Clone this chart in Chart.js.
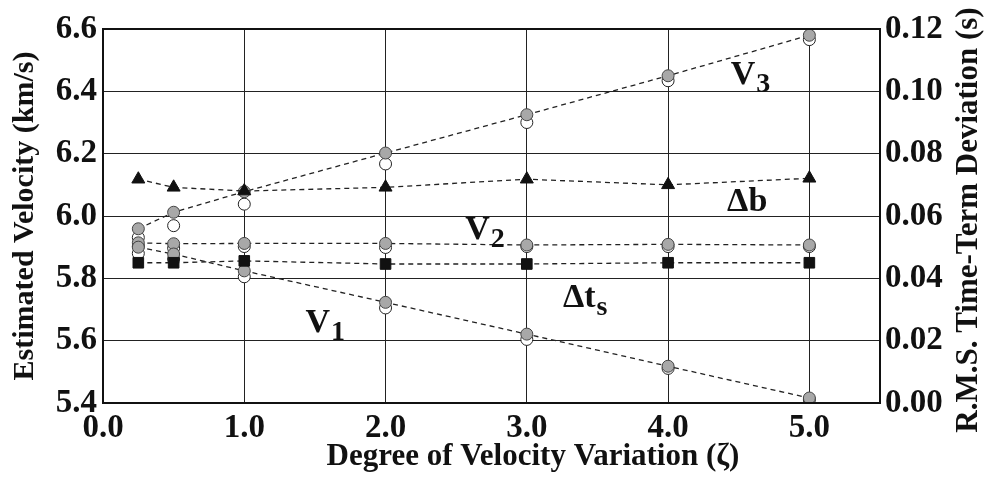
<!DOCTYPE html>
<html>
<head>
<meta charset="utf-8">
<title>Estimated velocity and time-term deviation</title>
<script src="https://cdn.jsdelivr.net/npm/chart.js@4/dist/chart.umd.min.js"></script>
<style>
  html, body { margin: 0; padding: 0; background: #ffffff; }
  #wrap { width: 990px; height: 488px; }
</style>
</head>
<body>
<div id="wrap"><canvas id="chart" width="990" height="488"></canvas></div>
<script>
// Degree of velocity variation (zeta)
const zeta = [0.25, 0.5, 1, 2, 3, 4, 5];

// Estimated layer velocities (km/s): filled = one estimate, open = the other
const v1Filled = [5.900, 5.878, 5.824, 5.723, 5.621, 5.518, 5.416];
const v1Open   = [5.880, 5.862, 5.805, 5.705, 5.604, 5.511, 5.410];
const v2Filled = [5.914, 5.911, 5.912, 5.912, 5.907, 5.909, 5.907];
const v2Open   = [5.903, 5.897, 5.902, 5.899, 5.902, 5.902, 5.902];
const v3Filled = [5.959, 6.012, 6.078, 6.202, 6.325, 6.450, 6.580];
const v3Open   = [5.931, 5.969, 6.038, 6.167, 6.300, 6.434, 6.566];

// R.M.S. time-term deviations (s)
const deltaB  = [0.0718, 0.0692, 0.0680, 0.0692, 0.0718, 0.0700, 0.0721];
const deltaTs = [0.0450, 0.0450, 0.0456, 0.0446, 0.0446, 0.0450, 0.0450];

// Axis ticks
const xTicks = [0, 1, 2, 3, 4, 5];
const velocityTicks = [5.4, 5.6, 5.8, 6.0, 6.2, 6.4, 6.6];
const deviationTicks = [0.00, 0.02, 0.04, 0.06, 0.08, 0.10, 0.12];

const SERIF = "'Liberation Serif', 'Times New Roman', serif";
const pts = (ys) => zeta.map((x, i) => ({ x: x, y: ys[i] }));

const dashedLine = { borderColor: '#222', borderWidth: 1.3, borderDash: [5, 4], showLine: true, tension: 0 };

const filledCircle = { pointStyle: 'circle', pointRadius: 6, pointBackgroundColor: '#a8a8a8', pointBorderColor: '#444', pointBorderWidth: 1 };
const openCircle = { pointStyle: 'circle', pointRadius: 6, pointBackgroundColor: '#ffffff', pointBorderColor: '#222', pointBorderWidth: 1, showLine: false };

const datasets = [
  Object.assign({ label: 'Δb', data: pts(deltaB), yAxisID: 'y2', order: 0,
    pointStyle: 'triangle', pointRadius: 7.5, pointBackgroundColor: '#111', pointBorderColor: '#111', pointBorderWidth: 1 }, dashedLine),
  Object.assign({ label: 'Δts', data: pts(deltaTs), yAxisID: 'y2', order: 0,
    pointStyle: 'rect', pointRadius: 7.5, pointBackgroundColor: '#111', pointBorderColor: '#111', pointBorderWidth: 1 }, dashedLine),
  Object.assign({ label: 'V1', data: pts(v1Filled), yAxisID: 'y', order: 1 }, filledCircle, dashedLine),
  Object.assign({ label: 'V2', data: pts(v2Filled), yAxisID: 'y', order: 1 }, filledCircle, dashedLine),
  Object.assign({ label: 'V3', data: pts(v3Filled), yAxisID: 'y', order: 1 }, filledCircle, dashedLine),
  Object.assign({ label: 'V1 (open)', data: pts(v1Open), yAxisID: 'y', order: 2 }, openCircle),
  Object.assign({ label: 'V2 (open)', data: pts(v2Open), yAxisID: 'y', order: 2 }, openCircle),
  Object.assign({ label: 'V3 (open)', data: pts(v3Open), yAxisID: 'y', order: 2 }, openCircle)
];

// Curve labels placed in data units: [main text, subscript, zeta, velocity]
const curveLabels = [
  ['V', '3', 4.58, 6.46],
  ['Δb', '', 4.56, 6.052],
  ['V', '2', 2.70, 5.962],
  ['Δt', 's', 3.41, 5.742],
  ['V', '1', 1.57, 5.662]
];

const framePlugin = {
  id: 'frame',
  afterDatasetsDraw(chart) {
    const { ctx, chartArea: a } = chart;
    ctx.save();
    ctx.strokeStyle = '#111';
    ctx.lineWidth = 2;
    ctx.strokeRect(a.left, a.top, a.right - a.left, a.bottom - a.top);
    ctx.restore();
  }
};

const labelPlugin = {
  id: 'curveLabels',
  afterDatasetsDraw(chart) {
    const { ctx, chartArea: a } = chart;
    const xs = chart.scales.x, ys = chart.scales.y;
    ctx.save();
    ctx.fillStyle = '#111';
    ctx.textBaseline = 'alphabetic';
    curveLabels.forEach(([main, sub, zx, vy]) => {
      const px = xs.getPixelForValue(zx);
      const py = ys.getPixelForValue(vy);
      ctx.font = 'bold 34px ' + SERIF;
      const mw = ctx.measureText(main).width;
      ctx.font = 'bold 28px ' + SERIF;
      const sw = sub ? ctx.measureText(sub).width : 0;
      const left = px - (mw + sw) / 2;
      ctx.font = 'bold 34px ' + SERIF;
      ctx.textAlign = 'left';
      ctx.fillText(main, left, py + 11);
      if (sub) {
        ctx.font = 'bold 28px ' + SERIF;
        ctx.fillText(sub, left + mw + 1, py + 19);
      }
    });

    // Axis titles for the bottom and right axes
    ctx.font = 'bold 31px ' + SERIF;
    ctx.textAlign = 'center';
    ctx.textBaseline = 'middle';
    ctx.fillText('Degree of Velocity Variation (ζ)', 533, 457);
    ctx.translate(969, (a.top + a.bottom) / 2 + 4);
    ctx.rotate(-Math.PI / 2);
    ctx.fillText('R.M.S. Time-Term Deviation (s)', 0, 0);
    ctx.restore();
  }
};

new Chart(document.getElementById('chart'), {
  type: 'scatter',
  data: { datasets: datasets },
  plugins: [framePlugin, labelPlugin],
  options: {
    responsive: false,
    animation: false,
    layout: { padding: { top: 29, right: 0, bottom: 0, left: 0 } },
    plugins: { legend: { display: false }, tooltip: { enabled: false } },
    scales: {
      x: {
        type: 'linear', min: 0, max: 5.5,
        afterBuildTicks: (s) => { s.ticks = xTicks.map(v => ({ value: v })); },
        afterFit: (s) => { s.height = 85; },
        ticks: { color: '#111', padding: 6, font: { family: SERIF, size: 33, weight: 'bold' },
                 callback: (v) => Number(v).toFixed(1), maxRotation: 0 },
        grid: { color: '#222', lineWidth: 1, drawTicks: false },
        border: { display: true, color: '#111', width: 2 }
      },
      y: {
        type: 'linear', position: 'left', min: 5.4, max: 6.6,
        afterBuildTicks: (s) => { s.ticks = velocityTicks.map(v => ({ value: v })); },
        afterFit: (s) => { s.width = 103; },
        ticks: { color: '#111', padding: 6, font: { family: SERIF, size: 33, weight: 'bold' },
                 callback: (v) => Number(v).toFixed(1) },
        grid: { color: '#222', lineWidth: 1, drawTicks: false },
        border: { display: true, color: '#111', width: 2 },
        title: { display: true, text: 'Estimated Velocity (km/s)', color: '#111',
                 font: { family: SERIF, size: 30, weight: 'bold' }, padding: { top: 7, bottom: 0 } }
      },
      y2: {
        type: 'linear', position: 'right', min: 0, max: 0.12,
        afterBuildTicks: (s) => { s.ticks = deviationTicks.map(v => ({ value: v })); },
        afterFit: (s) => { s.width = 110; },
        ticks: { color: '#111', padding: 5, font: { family: SERIF, size: 33, weight: 'bold' },
                 callback: (v) => Number(v).toFixed(2) },
        grid: { display: false, drawTicks: false },
        border: { display: true, color: '#111', width: 2 }
      }
    }
  }
});
</script>
</body>
</html>
